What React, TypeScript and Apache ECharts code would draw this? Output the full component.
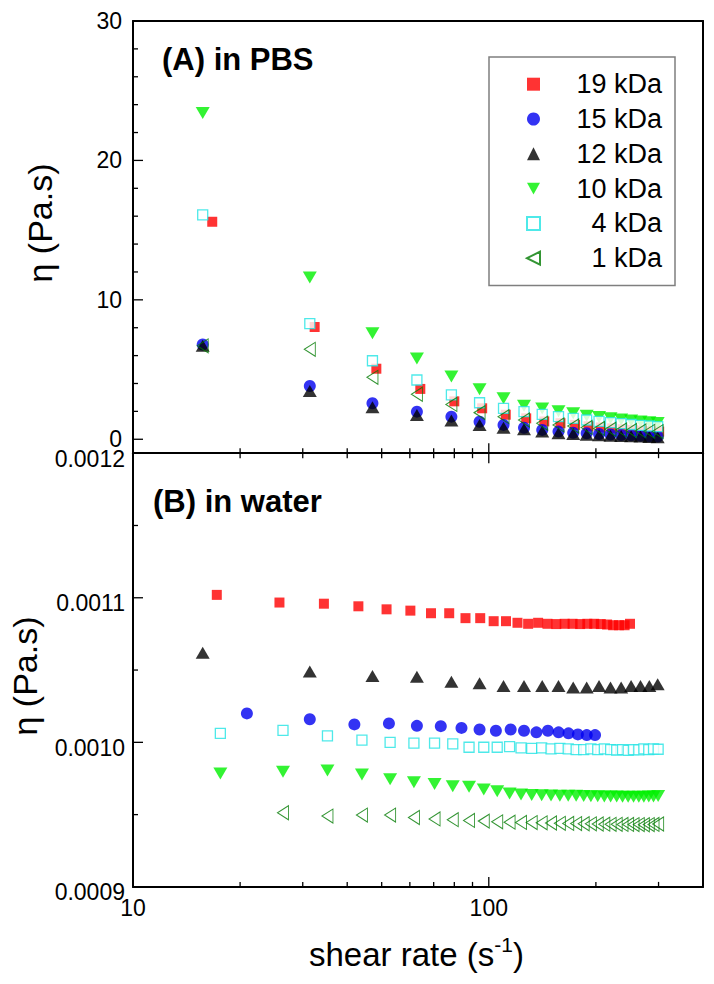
import React, { useEffect, useRef } from "react";
import * as echarts from "echarts";

const FONT = "'Liberation Sans', Arial, Helvetica, sans-serif";

const seriesNames = ["19 kDa", "15 kDa", "12 kDa", "10 kDa", "4 kDa", "1 kDa"];

// (A) in PBS — shear rate (1/s)
const shearA = [15.7, 31.4, 47.1, 62.8, 78.5, 94.2, 110.0, 125.6, 141.3, 157.0, 172.7, 188.4, 204.1, 219.8, 235.5, 251.2, 266.9, 282.6, 298.3];
const shearA19 = [16.7, 32.4, 48.3, 64.2, 80.0, 95.8, 111.6, 127.4, 143.2, 159.0, 174.8, 190.6, 206.4, 222.2, 238.0, 253.8, 269.6, 285.4, 301.2];
// viscosity (Pa.s)
const etaA19 = [15.6, 8.05, 5.06, 3.61, 2.72, 2.22, 1.76, 1.5, 1.28, 1.15, 1.03, 0.93, 0.85, 0.78, 0.72, 0.67, 0.62, 0.58, 0.55];
const etaA15 = [6.8, 3.82, 2.58, 1.98, 1.62, 1.26, 1.03, 0.83, 0.67, 0.55, 0.47, 0.43, 0.38, 0.34, 0.31, 0.28, 0.25, 0.22, 0.2];
const etaA12 = [6.7, 3.46, 2.29, 1.74, 1.35, 1.03, 0.83, 0.72, 0.55, 0.43, 0.38, 0.33, 0.29, 0.26, 0.23, 0.21, 0.19, 0.17, 0.15];
const etaA10 = [23.4, 11.6, 7.6, 5.8, 4.5, 3.58, 2.94, 2.41, 2.2, 2.0, 1.86, 1.68, 1.6, 1.5, 1.42, 1.35, 1.28, 1.22, 1.16];
const etaA4 = [16.1, 8.3, 5.63, 4.25, 3.18, 2.62, 2.22, 1.98, 1.79, 1.62, 1.5, 1.38, 1.28, 1.2, 1.12, 1.06, 1.0, 0.95, 0.9];
const etaA1 = [6.7, 6.45, 4.44, 3.23, 2.5, 1.91, 1.62, 1.38, 1.15, 1.03, 0.95, 0.85, 0.78, 0.72, 0.67, 0.63, 0.6, 0.57, 0.55];

// (B) in water — shear rate (1/s)
const shearB19 = [17.2, 25.8, 34.4, 43.0, 51.6, 60.2, 68.8, 77.4, 86.0, 94.6, 103.2, 111.8, 120.4, 129.0, 137.6, 146.2, 154.8, 163.4, 172.0, 180.6, 189.2, 197.8, 206.4, 215.0, 223.6, 232.2, 240.8, 249.4];
const shearB15 = [20.9, 31.4, 41.9, 52.4, 62.8, 73.3, 83.8, 94.2, 104.7, 115.2, 125.6, 136.1, 146.6, 157.1, 167.5, 178.0, 188.5, 198.9];
const shearB12 = [15.7, 31.4, 47.1, 62.8, 78.5, 94.2, 110.0, 125.6, 141.3, 157.0, 172.7, 188.4, 204.1, 219.8, 235.5, 251.2, 266.9, 282.6, 298.3];
const shearB10 = [17.6, 26.4, 35.2, 44.0, 52.8, 61.6, 70.4, 79.2, 88.0, 96.8, 105.6, 114.4, 123.2, 132.0, 140.8, 149.6, 158.4, 167.2, 176.0, 184.8, 193.6, 202.4, 211.2, 220.0, 228.8, 237.6, 246.4, 255.2, 264.0, 272.8, 281.6, 290.4, 299.2];
const shearB4 = [17.6, 26.4, 35.2, 44.0, 52.8, 61.6, 70.4, 79.2, 88.0, 96.8, 105.6, 114.4, 123.2, 132.0, 140.8, 149.6, 158.4, 167.2, 176.0, 184.8, 193.6, 202.4, 211.2, 220.0, 228.8, 237.6, 246.4, 255.2, 264.0, 272.8, 281.6, 290.4, 299.2];
const shearB1 = [26.4, 35.2, 44.0, 52.8, 61.6, 70.4, 79.2, 88.0, 96.8, 105.6, 114.4, 123.2, 132.0, 140.8, 149.6, 158.4, 167.2, 176.0, 184.8, 193.6, 202.4, 211.2, 220.0, 228.8, 237.6, 246.4, 255.2, 264.0, 272.8, 281.6, 290.4, 299.2];
// viscosity (Pa.s)
const etaB19 = [0.001102, 0.0010967, 0.0010959, 0.0010941, 0.001092, 0.0010911, 0.0010893, 0.0010893, 0.0010859, 0.0010859, 0.0010838, 0.0010838, 0.0010827, 0.001082, 0.0010827, 0.001082, 0.0010818, 0.001082, 0.001082, 0.0010818, 0.001082, 0.001082, 0.0010818, 0.0010815, 0.001081, 0.001081, 0.001081, 0.001082];
const etaB15 = [0.00102, 0.001016, 0.0010124, 0.0010131, 0.0010114, 0.0010112, 0.00101, 0.0010089, 0.001008, 0.0010089, 0.001008, 0.0010069, 0.001008, 0.0010069, 0.0010062, 0.0010055, 0.001005, 0.001005];
const etaB12 = [0.0010619, 0.001049, 0.0010459, 0.0010454, 0.0010419, 0.0010408, 0.0010389, 0.0010389, 0.0010389, 0.0010389, 0.001038, 0.001038, 0.0010389, 0.001038, 0.001038, 0.0010389, 0.0010389, 0.0010389, 0.0010401];
const etaB10 = [0.0009785, 0.0009797, 0.0009806, 0.0009778, 0.0009744, 0.0009724, 0.0009712, 0.0009696, 0.0009692, 0.0009674, 0.0009662, 0.0009646, 0.0009639, 0.0009636, 0.0009634, 0.0009633, 0.0009631, 0.000963, 0.000963, 0.0009628, 0.0009627, 0.0009627, 0.0009626, 0.0009625, 0.0009625, 0.0009624, 0.0009624, 0.0009623, 0.0009624, 0.0009624, 0.0009625, 0.0009626, 0.0009628];
const etaB4 = [0.0010062, 0.0010083, 0.0010044, 0.0010015, 0.001, 0.0009994, 0.0009994, 0.000999, 0.0009966, 0.0009966, 0.0009966, 0.000997, 0.0009962, 0.0009958, 0.0009962, 0.0009955, 0.0009958, 0.0009955, 0.000995, 0.000995, 0.0009955, 0.000995, 0.0009955, 0.000995, 0.0009947, 0.000995, 0.0009945, 0.000995, 0.0009948, 0.0009955, 0.000995, 0.0009955, 0.0009952];
const etaB1 = [0.0009513, 0.000949, 0.0009497, 0.0009497, 0.000948, 0.000947, 0.0009465, 0.000946, 0.0009455, 0.000945, 0.0009448, 0.0009446, 0.0009445, 0.0009443, 0.0009442, 0.000944, 0.0009439, 0.0009438, 0.0009437, 0.0009436, 0.0009435, 0.0009434, 0.0009433, 0.0009433, 0.0009432, 0.0009432, 0.0009431, 0.0009431, 0.000943, 0.0009431, 0.0009432, 0.0009435];

// axis ranges, ticks and labels
const xRange = [10, 400];
const yTopRange = [-1, 30];
const yBotRange = [0.0009, 0.0012];
const xMinorTicks = [20, 30, 40, 50, 60, 70, 80, 90, 200, 300];
const xMajorTicks = [100];
const xTickLabels = [10, 100];
const yTopMajor = [0, 10, 20, 30];
const yTopMinor = [2, 4, 6, 8, 12, 14, 16, 18, 22, 24, 26, 28];
const yBotMajor = [0.0009, 0.001, 0.0011, 0.0012];
const yBotMinor = [0.00095, 0.00105, 0.00115];

const styles: Record<string, any> = {
  "19 kDa": { symbol: "rect", symbolSize: 10, itemStyle: { color: "#ff0000" } },
  "15 kDa": { symbol: "circle", symbolSize: 12, itemStyle: { color: "#0000f0" } },
  "12 kDa": { symbol: "triangle", symbolSize: [14, 12], itemStyle: { color: "#000000" } },
  "10 kDa": { symbol: "path://M0,0L10,0L5,9Z", symbolSize: [14, 12], itemStyle: { color: "#00f000" } },
  "4 kDa": { symbol: "rect", symbolSize: 10, itemStyle: { color: "#ffffff", borderColor: "#22e4e4", borderWidth: 1.3 } },
  "1 kDa": { symbol: "path://M0,5L10,0L10,10Z", symbolSize: [11, 14], itemStyle: { color: "rgba(0,0,0,0)", borderColor: "#007a00", borderWidth: 1 } },
};

function pairs(xs: number[], ys: number[]) {
  return ys.map((y, i) => [xs[i], y]);
}

export default function App() {
  const ref = useRef<HTMLDivElement>(null);
  useEffect(() => {
    const chart = echarts.init(ref.current!, null, { renderer: "svg" });
    const black = "#000";
    const lineStyle = { color: black, width: 2 };
    const hidden = () => ({ show: false });
    const logAxis = (gridIndex: number, position: string, labels?: number[]) => ({
      type: "log",
      logBase: 10,
      gridIndex,
      position,
      min: xRange[0],
      max: xRange[1],
      axisLine: { show: true, onZero: false, lineStyle },
      axisTick: hidden(),
      minorTick: hidden(),
      axisLabel: labels
        ? { show: true, customValues: labels, fontSize: 23, lineHeight: 14, color: black, fontFamily: FONT, margin: 14 }
        : hidden(),
      splitLine: hidden(),
      minorSplitLine: hidden(),
    });
    const valAxis = (gridIndex: number, position: string, range: number[], labelOpt?: any) => ({
      type: "value",
      gridIndex,
      position,
      min: range[0],
      max: range[1],
      axisLine: { show: true, onZero: false, lineStyle },
      axisTick: hidden(),
      minorTick: hidden(),
      axisLabel: labelOpt ? { show: true, fontSize: 23, color: black, fontFamily: FONT, ...labelOpt } : hidden(),
      splitLine: hidden(),
      minorSplitLine: hidden(),
    });

    // tick marks, placed through the axes' own scales
    const tickSeries = (xi: number, yi: number, pts: number[][], dx: number, dy: number) => ({
      type: "custom",
      coordinateSystem: "cartesian2d",
      xAxisIndex: xi,
      yAxisIndex: yi,
      silent: true,
      clip: false,
      z: 4,
      data: pts,
      renderItem: (_p: any, api: any) => {
        const c = api.coord([api.value(0), api.value(1)]);
        return {
          type: "line",
          shape: { x1: c[0], y1: c[1], x2: c[0] + dx, y2: c[1] + dy },
          style: { stroke: black, lineWidth: 1.3 },
        };
      },
    });

    const topSeries = [
      [shearA19, etaA19], [shearA, etaA15], [shearA, etaA12], [shearA, etaA10], [shearA, etaA4], [shearA, etaA1],
    ];
    const botSeries = [
      [shearB19, etaB19], [shearB15, etaB15], [shearB12, etaB12], [shearB10, etaB10], [shearB4, etaB4], [shearB1, etaB1],
    ];
    const series: any[] = [];
    seriesNames.forEach((name, i) => {
      series.push({ type: "scatter", name, xAxisIndex: 0, yAxisIndex: 0, data: pairs(topSeries[i][0], topSeries[i][1]), ...styles[name], emphasis: { disabled: true } });
    });
    seriesNames.forEach((name, i) => {
      series.push({ type: "scatter", name, xAxisIndex: 2, yAxisIndex: 2, data: pairs(botSeries[i][0], botSeries[i][1]), ...styles[name], emphasis: { disabled: true } });
    });
    // top panel ticks
    series.push(tickSeries(0, 0, xMinorTicks.map((v) => [v, yTopRange[0]]), 0, -5));
    series.push(tickSeries(0, 0, xMajorTicks.map((v) => [v, yTopRange[0]]), 0, -10));
    series.push(tickSeries(0, 0, yTopMajor.map((v) => [xRange[0], v]), 10, 0));
    series.push(tickSeries(0, 0, yTopMinor.map((v) => [xRange[0], v]), 5, 0));
    // bottom panel ticks
    series.push(tickSeries(2, 2, xMinorTicks.map((v) => [v, yBotRange[1]]), 0, 5));
    series.push(tickSeries(2, 2, xMajorTicks.map((v) => [v, yBotRange[1]]), 0, 10));
    series.push(tickSeries(2, 2, xMinorTicks.map((v) => [v, yBotRange[0]]), 0, -5));
    series.push(tickSeries(2, 2, xMajorTicks.map((v) => [v, yBotRange[0]]), 0, -10));
    series.push(tickSeries(2, 2, yBotMajor.map((v) => [xRange[0], v]), 10, 0));
    series.push(tickSeries(2, 2, yBotMinor.map((v) => [xRange[0], v]), 5, 0));

    const option: any = {
      animation: false,
      backgroundColor: "#ffffff",
      grid: [
        { left: 133, top: 21, width: 570, height: 432.2, containLabel: false, outerBoundsMode: "none" },
        { left: 133, top: 453.2, width: 570, height: 433.7, containLabel: false, outerBoundsMode: "none" },
      ],
      xAxis: [logAxis(0, "bottom"), logAxis(0, "top"), logAxis(1, "bottom", xTickLabels), logAxis(1, "top")],
      yAxis: [
        valAxis(0, "left", yTopRange, { customValues: yTopMajor, margin: 11 }),
        valAxis(0, "right", yTopRange),
        valAxis(1, "left", yBotRange, { customValues: yBotMajor, margin: 8, verticalAlign: "top", lineHeight: 11, formatter: (v: number) => v.toFixed(4) }),
        valAxis(1, "right", yBotRange),
      ],
      legend: {
        orient: "vertical", left: 489, top: 57, padding: [13.7, 13, 13.8, 37], itemGap: 7.8, itemWidth: 13, itemHeight: 13,
        borderColor: "#7f7f7f", borderWidth: 1.5, borderRadius: 0, backgroundColor: "#ffffff", selectedMode: false,
        data: seriesNames,
        formatter: (name: string) => `{t|${name}}`,
        textStyle: { rich: { t: { width: 117, align: "right", fontSize: 27, lineHeight: 30, fontFamily: FONT, color: "#000" } } },
      },
      graphic: [
        { type: "text", x: 162, y: 59.5, style: { text: "(A) in PBS", fontSize: 31, fontWeight: "bold", fontFamily: FONT, fill: "#000", align: "left", verticalAlign: "middle" } },
        { type: "text", x: 153, y: 501, style: { text: "(B) in water", fontSize: 31, fontWeight: "bold", fontFamily: FONT, fill: "#000", align: "left", verticalAlign: "middle" } },
        { type: "text", x: 40, y: 223, rotation: Math.PI / 2, style: { text: "η (Pa.s)", fontSize: 34, fontFamily: FONT, fill: "#000", align: "center", verticalAlign: "middle" } },
        { type: "text", x: 25, y: 676, rotation: Math.PI / 2, style: { text: "η (Pa.s)", fontSize: 34, fontFamily: FONT, fill: "#000", align: "center", verticalAlign: "middle" } },
        {
          type: "text", x: 309, y: 954,
          style: {
            text: "{a|shear rate (s}{b|-1}{a|)}", align: "left", verticalAlign: "middle", fill: "#000",
            rich: {
              a: { fontSize: 33, lineHeight: 40, fontFamily: FONT, fill: "#000" },
              b: { fontSize: 21, lineHeight: 21, fontFamily: FONT, fill: "#000", verticalAlign: "top" },
            },
          },
        },
      ],
      series,
    };
    chart.setOption(option);
    return () => chart.dispose();
  }, []);
  return <div ref={ref} style={{ position: "absolute", left: 0, top: 0, width: 714, height: 984, background: "#fff" }} />;
}
